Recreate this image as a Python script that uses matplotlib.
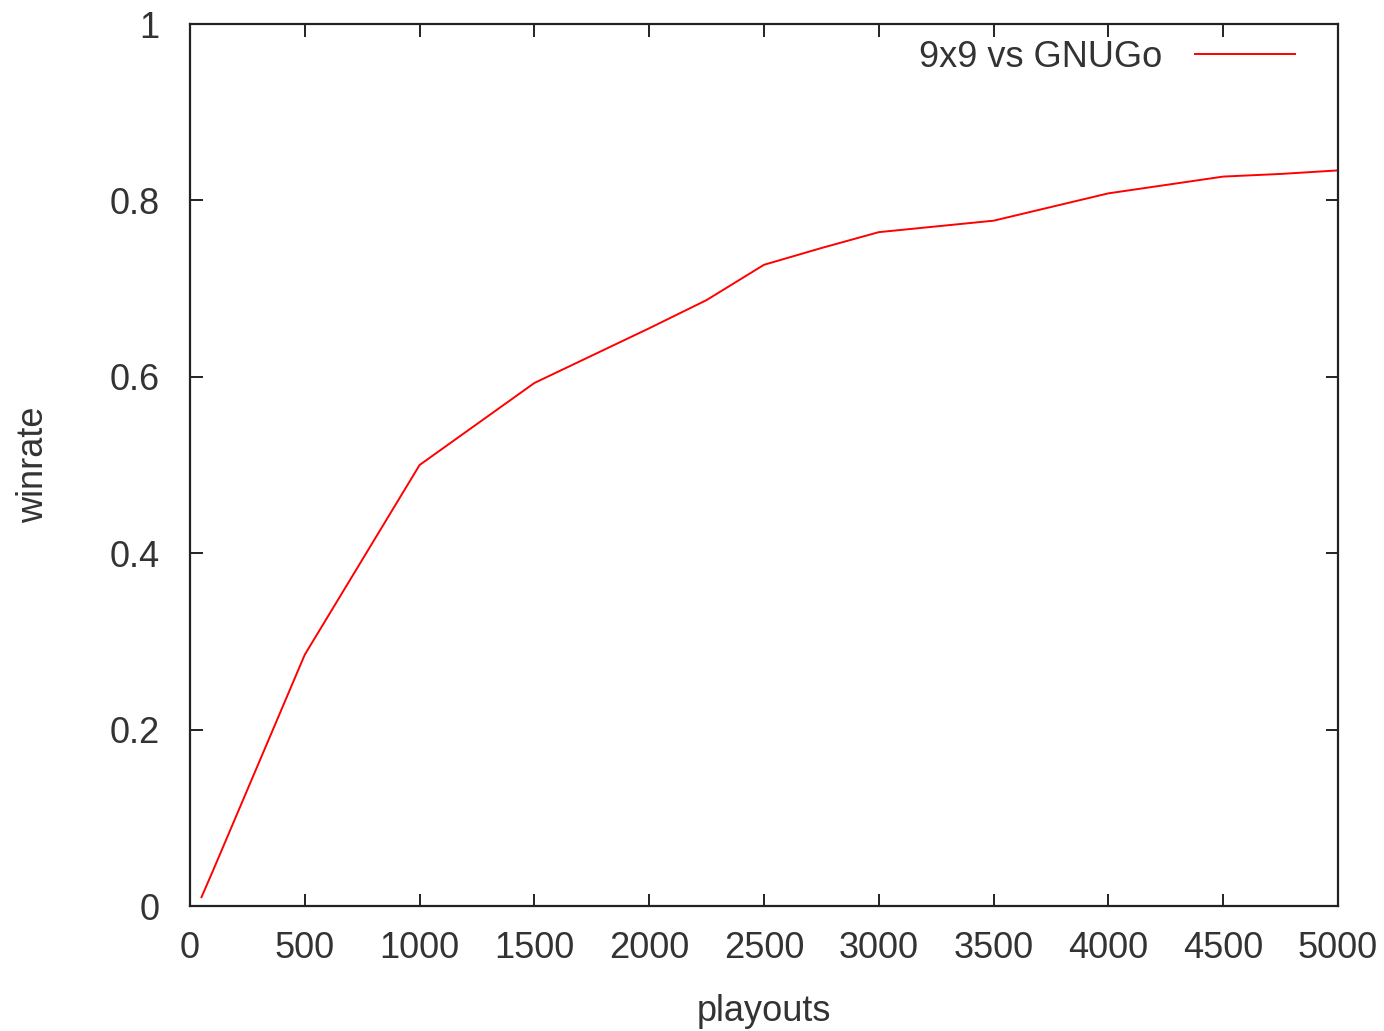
import matplotlib
matplotlib.use("Agg")
import matplotlib.pyplot as plt

playouts = [50, 100, 500, 1000, 1500, 2000, 2250, 2500, 2750, 3000, 3500, 4000, 4500, 4750, 5000]
winrate = [0.01, 0.04, 0.285, 0.50, 0.593, 0.655, 0.687, 0.727, 0.746, 0.764, 0.777, 0.808, 0.827, 0.830, 0.834]
series_label = "9x9 vs GNUGo"
xticks = [0, 500, 1000, 1500, 2000, 2500, 3000, 3500, 4000, 4500, 5000]
yticks = [0, 0.2, 0.4, 0.6, 0.8, 1]
yticklabels = ["0", "0.2", "0.4", "0.6", "0.8", "1"]

plt.rcParams['font.family'] = ['Liberation Sans', 'DejaVu Sans']
txt = '#333333'
fs = 26

fig = plt.figure(figsize=(13.84, 10.31), dpi=100)
ax = fig.add_axes([190/1384, 125/1031, 1148/1384, 882/1031])
ax.plot(playouts, winrate, color='#ff0000', lw=1.4, label=series_label)
ax.set_xlim(0, 5000)
ax.set_ylim(0, 1)
ax.set_xticks(xticks)
ax.set_xticklabels([str(t) for t in xticks])
ax.set_yticks(yticks)
ax.set_yticklabels(yticklabels)
ax.tick_params(direction='in', length=9, width=1.4, top=True, right=True,
               labelsize=fs, labelcolor=txt, color='#222222')
ax.tick_params(axis='x', pad=18)
ax.tick_params(axis='y', pad=22)
for s in ax.spines.values():
    s.set_linewidth(1.6)
    s.set_color('#222222')
ax.set_xlabel('playouts', fontsize=fs, color=txt, labelpad=20)
ax.set_ylabel('winrate', fontsize=fs, color=txt, labelpad=42)
leg = ax.legend(loc='upper right', bbox_to_anchor=(1 - 43/1148, 1 - 16/882),
                frameon=False, markerfirst=False, fontsize=fs, handlelength=2.78,
                handletextpad=0.89, borderaxespad=0, borderpad=0)
for t in leg.get_texts():
    t.set_color(txt)
fig.savefig('out.png', dpi=100, facecolor='white')
